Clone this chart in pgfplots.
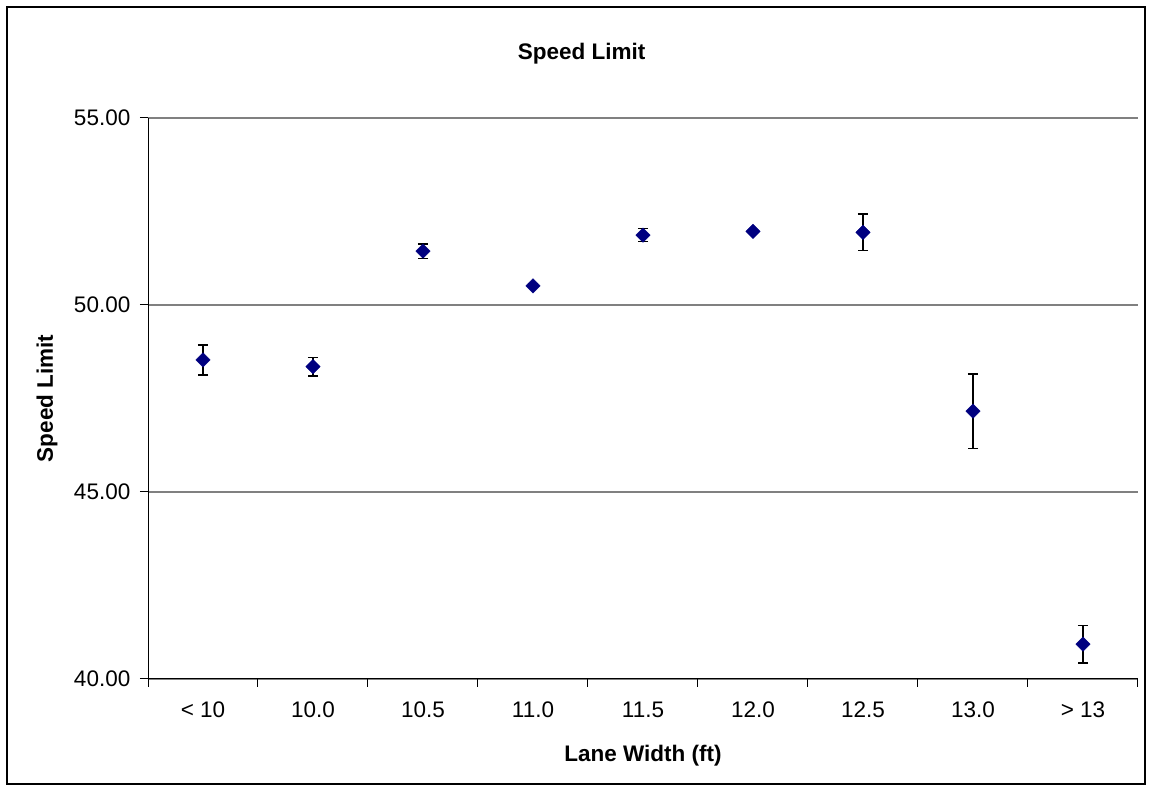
\documentclass[border=0pt]{standalone}
\usepackage{fontspec}
\setmainfont{Liberation Sans}
\usepackage{pgfplots}
\pgfplotsset{compat=1.18}
\definecolor{navy}{RGB}{0,0,128}
\definecolor{gridgray}{RGB}{128,128,128}
\pgfplotstableread{
x y e
0 48.53 0.40
1 48.35 0.25
2 51.44 0.19
3 50.51 0.05
4 51.87 0.18
5 51.97 0.05
6 51.94 0.49
7 47.16 1.00
8 40.93 0.50
}\speeddata
\begin{document}
\fontsize{22.5bp}{27bp}\selectfont
\begin{tikzpicture}
\path (0,0) rectangle (1152bp,791bp);
\draw[line width=2bp] (7bp,7bp) rectangle (1145bp,784bp);
\begin{axis}[
  at={(148bp,112bp)}, anchor=south west,
  scale only axis, width=990bp, height=561bp,
  xmin=-0.5, xmax=8.5, ymin=40, ymax=55,
  axis x line*=bottom, axis y line*=left,
  axis line style={black, line width=1bp},
  xtick={0,...,8},
  xticklabels={< 10,10.0,10.5,11.0,11.5,12.0,12.5,13.0,> 13},
  minor xtick={-0.5,0.5,...,8.5},
  major x tick style={draw=none},
  minor x tick style={black, line width=1bp},
  minor tick length=8bp,
  ytick={40,45,50,55},
  y tick style={black, line width=1bp},
  major tick length=8bp,
  tick align=outside,
  ymajorgrids,
  y grid style={gridgray, line width=1.3bp},
  /pgf/number format/assume math mode=true,
  /pgf/number format/.cd, fixed, fixed zerofill, precision=2, /pgfplots/.cd,
  xticklabel style={anchor=base, yshift=-31bp},
  yticklabel style={anchor=east, xshift=-2bp},
  title={\bfseries Speed Limit},
  title style={at={(axis description cs:0.438,1.0945)}, anchor=base},
  xlabel={\bfseries Lane Width (ft)},
  xlabel style={at={(axis description cs:0.5,-0.1462)}, anchor=base},
  ylabel={\bfseries Speed Limit},
  ylabel style={at={(axis description cs:-0.102,0.5)}, anchor=center},
]
\addplot[draw=none, mark=none, forget plot,
  error bars/.cd, y dir=both, y explicit,
  error bar style={draw=black, solid, line width=1.4bp},
  error mark options={draw=black, solid, line width=1.4bp, mark size=5bp, rotate=90}]
  table[x=x, y=y, y error=e] {\speeddata};
\addplot[only marks, mark=square*, mark size=5.1bp,
  mark options={rotate=45, draw=navy, fill=navy}]
  table[x=x, y=y] {\speeddata};
\end{axis}
\end{tikzpicture}
\end{document}
